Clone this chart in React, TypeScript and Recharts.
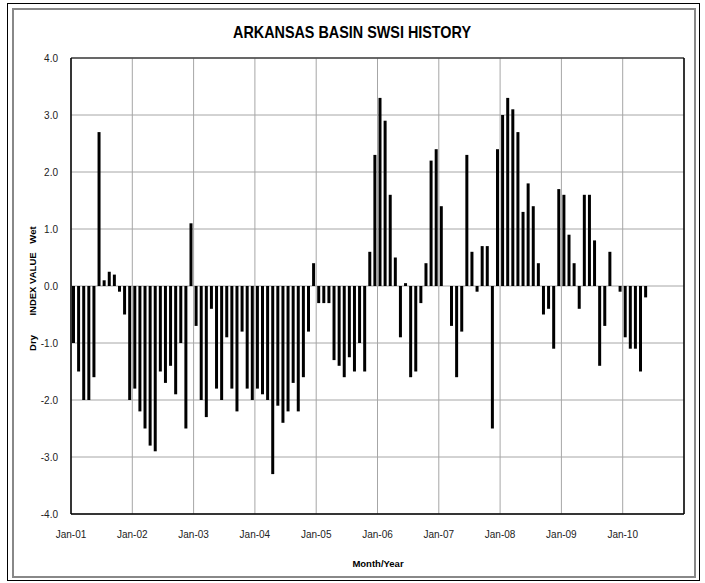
import { BarChart, Bar, XAxis, YAxis, CartesianGrid, ReferenceLine } from "recharts";

const yearLabels = ["Jan-01", "Jan-02", "Jan-03", "Jan-04", "Jan-05", "Jan-06", "Jan-07", "Jan-08", "Jan-09", "Jan-10"];

// monthly SWSI, Jan..Dec of each year
const swsi2001 = [-1.0, -1.5, -2.0, -2.0, -1.6, 2.7, 0.1, 0.25, 0.2, -0.1, -0.5, -2.0];
const swsi2002 = [-1.8, -2.2, -2.5, -2.8, -2.9, -1.5, -1.7, -1.4, -1.9, -1.0, -2.5, 1.1];
const swsi2003 = [-0.7, -2.0, -2.3, -0.4, -1.8, -2.0, -0.9, -1.8, -2.2, -0.8, -1.8, -2.0];
const swsi2004 = [-1.8, -1.9, -2.0, -3.3, -2.1, -2.4, -2.2, -1.7, -2.2, -1.6, -0.8, 0.4];
const swsi2005 = [-0.3, -0.3, -0.3, -1.3, -1.4, -1.6, -1.25, -1.5, -1.0, -1.5, 0.6, 2.3];
const swsi2006 = [3.3, 2.9, 1.6, 0.5, -0.9, 0.05, -1.6, -1.5, -0.3, 0.4, 2.2, 2.4];
const swsi2007 = [1.4, null, -0.7, -1.6, -0.8, 2.3, 0.6, -0.1, 0.7, 0.7, -2.5, 2.4];
const swsi2008 = [3.0, 3.3, 3.1, 2.7, 1.3, 1.8, 1.4, 0.4, -0.5, -0.4, -1.1, 1.7];
const swsi2009 = [1.6, 0.9, 0.4, -0.4, 1.6, 1.6, 0.8, -1.4, -0.7, 0.6, null, -0.1];
const swsi2010 = [-0.9, -1.1, -1.1, -1.5, -0.2];

const yTicks = [-4, -3, -2, -1, 0, 1, 2, 3, 4];

const allValues = [
  ...swsi2001, ...swsi2002, ...swsi2003, ...swsi2004, ...swsi2005,
  ...swsi2006, ...swsi2007, ...swsi2008, ...swsi2009, ...swsi2010,
];
// bar sits in the middle of its month slot
const data = allValues.map((v, i) => ({ month: i + 0.5, swsi: v }));
const xTicks = yearLabels.map((_, i) => i * 12);

const FONT = '"Liberation Sans Narrow", "Arial Narrow", "Liberation Sans", sans-serif';

export default function App() {
  return (
    <div style={{ position: "absolute", left: 0, top: 0, width: 705, height: 583, background: "#fff", fontFamily: FONT }}>
      <div style={{ position: "absolute", left: 7, top: 3, width: 693, height: 578, border: "1.5px solid #000", boxSizing: "border-box" }} />
      <div style={{ position: "absolute", left: 12, top: 8, width: 684, height: 570, border: "2px solid #888", boxSizing: "border-box" }} />
      <div style={{ position: "absolute", left: 0, top: 0 }}>
        <BarChart
          width={705}
          height={583}
          data={data}
          margin={{ top: 58, right: 21, left: 11, bottom: 39 }}
        >
          <CartesianGrid stroke="#a6a6a6" strokeWidth={1} />
          <XAxis
            dataKey="month"
            type="number"
            domain={[0, 120]}
            ticks={xTicks}
            tickFormatter={(v: number) => yearLabels[v / 12]}
            interval={0}
            height={30}
            tickSize={0}
            tickMargin={17}
            axisLine={{ stroke: "#000", strokeWidth: 1.5 }}
            tick={{ fill: "#222", fontSize: 10, fontFamily: FONT }}
          />
          <YAxis
            domain={[-4, 4]}
            ticks={yTicks}
            interval={0}
            width={60}
            tickSize={0}
            tickMargin={13}
            tickFormatter={(v: number) => v.toFixed(1)}
            axisLine={{ stroke: "#000", strokeWidth: 1.5 }}
            tick={{ fill: "#222", fontSize: 10, fontFamily: FONT }}
          />
          <ReferenceLine y={4} stroke="#444" strokeWidth={1.5} />
          <ReferenceLine x={120} stroke="#000" strokeWidth={1.5} />
          <Bar dataKey="swsi" fill="#000" barSize={3} isAnimationActive={false} />
        </BarChart>
      </div>
      <svg width={705} height={583} style={{ position: "absolute", left: 0, top: 0, pointerEvents: "none" }}>
        <text x={352} y={32} textAnchor="middle" dominantBaseline="central" fontSize={17} fontWeight="bold" fill="#000" fontFamily={FONT} textLength={238} lengthAdjust="spacingAndGlyphs">
          ARKANSAS BASIN SWSI HISTORY
        </text>
        <text x={378} y={563} textAnchor="middle" dominantBaseline="central" fontSize={9.5} fontWeight="bold" fill="#000" fontFamily={FONT}>
          Month/Year
        </text>
        <g fontSize={9.5} fontWeight="bold" fill="#000" fontFamily={FONT}>
          <text transform="translate(32,235) rotate(-90)" textAnchor="middle" dominantBaseline="central">Wet</text>
          <text transform="translate(32,284) rotate(-90)" textAnchor="middle" dominantBaseline="central">INDEX VALUE</text>
          <text transform="translate(32,343) rotate(-90)" textAnchor="middle" dominantBaseline="central">Dry</text>
        </g>
      </svg>
    </div>
  );
}
